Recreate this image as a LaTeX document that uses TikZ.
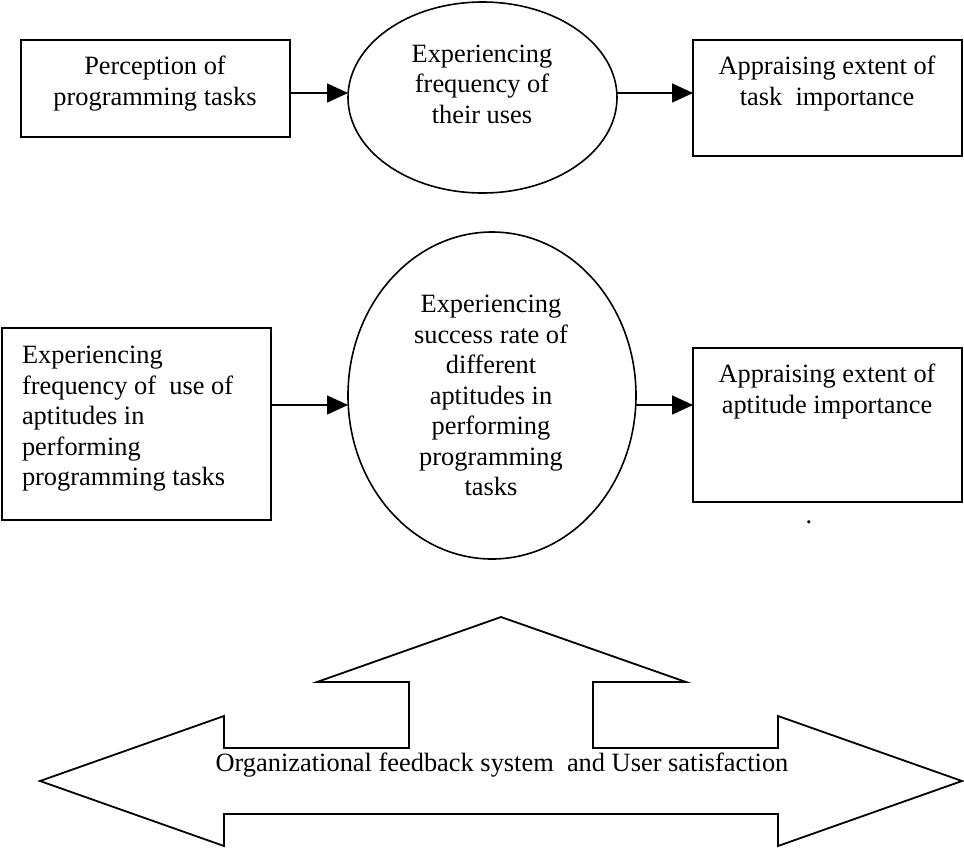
\documentclass[tikz,border=0pt]{standalone}
\usepackage{fontspec}
\setmainfont{Liberation Serif}
\usetikzlibrary{shapes.geometric,arrows.meta}
\begin{document}
\begin{tikzpicture}[x=1pt,y=-1pt,
  every node/.style={inner sep=0pt, outer sep=0pt},
  txt/.style={font=\fontsize{26.4}{30.5}\selectfont, align=center, anchor=north},
  boxshape/.style={draw, rectangle, line width=1.8pt},
  ellshape/.style={draw, ellipse, line width=1.6pt},
  flow/.style={line width=1.6pt, -{Triangle[length=21pt,width=19pt]}},
  outline/.style={draw, line width=1.8pt, line join=miter}]
\useasboundingbox (0,0) rectangle (964,849);

% top row
\node[boxshape, minimum width=269pt, minimum height=97pt] (b1) at (155.5,88.5) {};
\node[ellshape, minimum width=269pt, minimum height=191pt] (e1) at (482.5,97.5) {};
\node[boxshape, minimum width=269pt, minimum height=116pt] (b2) at (827.5,98) {};
\node[txt] (t1) at (155,53.6) {\strut Perception of\\programming tasks};
\node[txt] (t2) at (482,41) {\strut Experiencing\\frequency of\\their uses};
\node[txt] (t3) at (827,53.6) {\strut Appraising extent of\\task\ \ importance};
\coordinate (r1) at (0,93);
\draw[flow] (b1.east |- r1) -- (e1.west |- r1);
\draw[flow] (e1.east |- r1) -- (b2.west |- r1);

% middle row
\node[boxshape, minimum width=269pt, minimum height=192pt] (b3) at (136.5,424) {};
\node[ellshape, minimum width=288pt, minimum height=327pt] (e2) at (492,395.5) {};
\node[boxshape, minimum width=269pt, minimum height=154pt] (b4) at (827.5,425) {};
\node[txt, align=left, anchor=north west] (t4) at (22,342.6)
  {\strut Experiencing\\frequency of\ \ use of\\aptitudes in\\performing\\programming tasks};
\node[txt] (t5) at (491,291.6)
  {\strut Experiencing\\success rate of\\different\\aptitudes in\\performing\\programming\\tasks};
\node[txt] (t6) at (827,361.6) {\strut Appraising extent of\\aptitude importance};
\node[txt, anchor=base] (dot) at (809,523.5) {.};
\coordinate (r2) at (0,405);
\draw[flow] (b3.east |- r2) -- (e2.west |- r2);
\draw[flow] (e2.east |- r2) -- (b4.west |- r2);

% bottom: three-way block arrow
\draw[outline] (40,781) -- (224,716) -- (224,748) -- (409,748) -- (409,682)
  -- (317,682) -- (501,617) -- (686,682) -- (593,682) -- (593,748)
  -- (778,748) -- (778,716) -- (962,781) -- (778,846) -- (778,814)
  -- (224,814) -- (224,846) -- cycle;
\node[txt, anchor=base] (fb) at (502,771.7)
  {Organizational feedback system\ \ and User satisfaction};
\end{tikzpicture}
\end{document}
